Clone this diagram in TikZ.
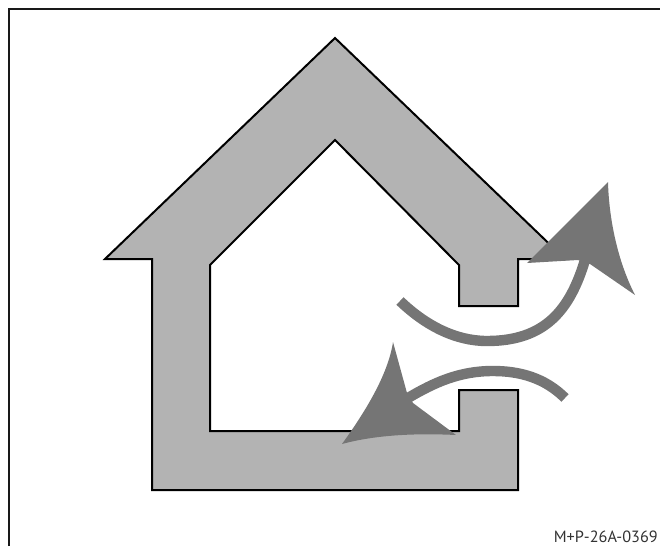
\documentclass[tikz,border=0pt]{standalone}
\usepackage{fontspec}
\setmainfont{PT Sans}
\tikzset{
  wall/.style={fill=wallgray,draw=black,line width=1.5pt,line join=miter},
  flowshaft/.style={draw=flowgray,line cap=butt,line width=7.8pt},
  flowhead/.style={fill=flowgray,draw=none},
  framing/.style={draw=black!90,line width=1.8pt},
  code/.style={inner sep=0pt,font=\fontsize{12.2pt}{14pt}\selectfont,text=black!80,anchor=base east}
}
\definecolor{wallgray}{HTML}{B3B3B3}
\definecolor{flowgray}{HTML}{757575}
\begin{document}
\begin{tikzpicture}[x=0.75pt,y=-0.75pt]
\useasboundingbox (0,0) rectangle (660,546);
\draw[framing] (9,546) -- (9,9) -- (660,9);
\draw[wall] (335,38) -- (565,259) -- (518,259) -- (518,306) -- (459,306) -- (459,265)
  -- (335,140) -- (210,265) -- (210,431) -- (459,431) -- (459,390) -- (518,390)
  -- (518,490) -- (152,490) -- (152,259) -- (105,259) -- cycle;
\draw[flowshaft] (400,301) .. controls (425,325) and (455,341) .. (487,341)
  .. controls (545,341) and (570,310) .. (585,260);
\fill[flowhead] (608,182) .. controls (609,220) and (618,262) .. (635,295)
  -- (590,264) -- (578,260) -- (527,263) -- cycle;
\draw[flowshaft] (565,398) .. controls (545,378) and (520,371) .. (493,371)
  .. controls (460,371) and (435,382) .. (408,398);
\fill[flowhead] (342,444) .. controls (375,435) and (415,433) .. (456,435)
  -- (413,403) -- (407,393) -- (393,342) .. controls (388,375) and (365,412) .. (342,444) -- cycle;
\node[code] (label) at (658,542) {M+P-26A-0369};
\end{tikzpicture}
\end{document}
